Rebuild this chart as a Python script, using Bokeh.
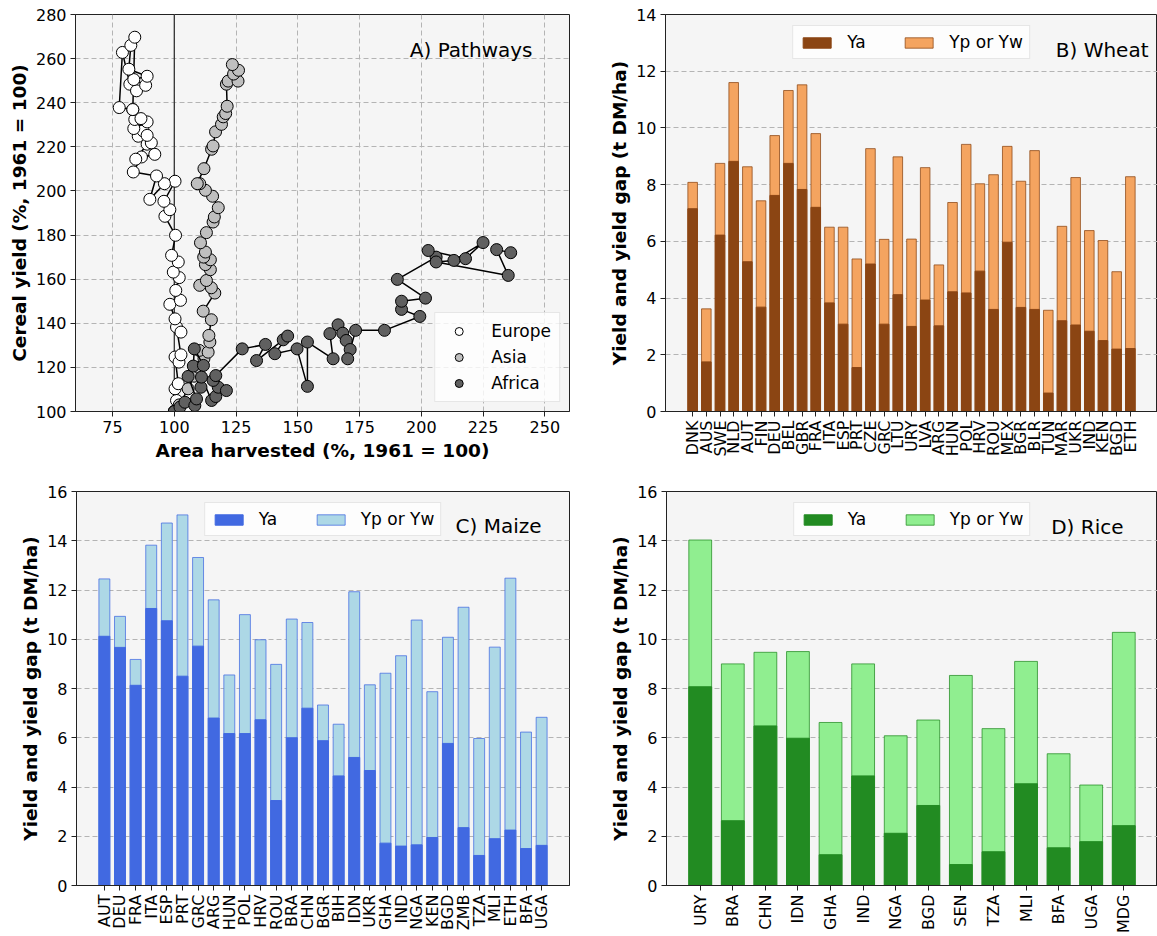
import numpy as np
from bokeh.plotting import figure
from bokeh.models import (Range1d, FixedTicker, Legend, LegendItem, Label, Span,
                          ColumnDataSource)
from bokeh.layouts import row, column
from bokeh.embed import file_html
from bokeh.resources import INLINE

FONT = "DejaVu Sans"

# ---------------- Panel A data: area harvested vs cereal yield (1961 = 100) ----------------
europe_area = [100, 100.9, 100.3, 101.6, 100.3, 101.9, 102.7, 100.9, 102.7, 100.3, 98.2, 102.5,
               100.6, 102.0, 99.6, 101.6, 98.9, 100.5, 96.2, 98.2, 95.8, 100.3, 96.0, 90.1,
               92.8, 83.4, 86.7, 92.1, 84.4, 89.0, 90.7, 85.4, 87.4, 89.0, 83.6, 89.0, 84.0,
               86.5, 83.2, 77.7, 79.0, 82.0, 84.7, 88.4, 83.6, 89.0, 81.6, 82.4, 84.0, 83.2]
europe_yield = [100, 105.0, 110.3, 112.6, 124.7, 122.4, 125.7, 138.3, 136.0, 142.0, 148.6, 150.4,
                154.9, 160.7, 163.2, 167.8, 170.8, 179.9, 188.5, 191.5, 195.3, 204.4, 203.3, 196.2,
                206.8, 208.6, 215.4, 216.6, 214.4, 221.2, 221.8, 224.8, 227.2, 225.2, 228.3, 231.3,
                232.4, 232.8, 236.9, 237.8, 262.8, 248.4, 245.4, 247.9, 250.5, 252.0, 255.2, 266.0,
                269.7, 236.9]

asia_area = [100, 102.0, 105.6, 108.0, 110.0, 112.0, 110.1, 113.7, 114.4, 114.0, 115.0, 111.7,
             116.4, 115.0, 110.3, 113.0, 114.6, 112.6, 114.6, 111.9, 112.6, 110.6, 113.0, 115.7,
             116.2, 117.8, 115.5, 112.6, 110.3, 109.3, 112.0, 115.1, 115.7, 116.7, 119.1, 119.8,
             120.8, 121.4, 121.1, 121.8, 125.8, 124.0, 126.0, 123.5]
asia_yield = [100, 103.0, 110.3, 116.0, 120.0, 124.0, 127.7, 126.9, 131.5, 134.5, 141.6, 145.5,
              153.7, 156.1, 157.2, 159.4, 164.3, 166.6, 168.8, 170.0, 172.3, 176.5, 181.1, 185.9,
              188.2, 192.4, 197.6, 200.3, 203.3, 203.3, 210.1, 218.9, 220.4, 226.8, 230.2, 233.6,
              235.1, 238.4, 248.4, 249.8, 249.8, 253.0, 254.7, 257.3]

africa_area = [100, 102.3, 104.3, 108.3, 109.0, 105.6, 107.7, 108.1, 111.8, 110.8, 111.0, 115.1,
               116.8, 117.8, 121.1, 115.7, 116.8, 127.5, 136.9, 133.3, 144.1, 145.9, 140.7, 149.7,
               153.9, 153.9, 164.3, 163.0, 166.3, 168.2, 169.6, 171.2, 170.2, 173.4, 185.1, 199.4,
               192.0, 192.0, 201.7, 190.3, 206.0, 202.8, 217.9, 225.0, 213.2, 206.0, 235.2, 230.5,
               236.2]
africa_yield = [100, 102.0, 104.2, 102.7, 105.7, 115.9, 120.6, 128.4, 120.9, 111.0, 115.6, 105.0,
                106.8, 111.0, 109.5, 114.1, 116.3, 128.4, 130.4, 123.1, 132.5, 134.2, 126.2, 128.4,
                111.4, 131.5, 123.9, 135.3, 139.3, 135.5, 132.2, 128.1, 123.9, 136.8, 136.8, 143.1,
                146.3, 150.0, 151.4, 159.9, 170.0, 173.0, 169.3, 176.6, 168.5, 167.8, 161.7, 173.4,
                172.0]

x_ticks_a = [75, 100, 125, 150, 175, 200, 225, 250]
y_ticks_a = [100, 120, 140, 160, 180, 200, 220, 240, 260, 280]

# ---------------- Panel B: wheat ----------------
wheat_countries = ["DNK", "AUS", "SWE", "NLD", "AUT", "FIN", "DEU", "BEL", "GBR", "FRA", "ITA",
                   "ESP", "PRT", "CZE", "GRC", "LTU", "URY", "LVA", "ARG", "HUN", "POL", "HRV",
                   "ROU", "MEX", "BGR", "BLR", "TUN", "MAR", "UKR", "IND", "KEN", "BGD", "ETH"]
wheat_ya = [7.15, 1.75, 6.22, 8.82, 5.28, 3.68, 7.62, 8.75, 7.83, 7.20, 3.83,
            3.08, 1.55, 5.20, 3.08, 4.12, 3.00, 3.93, 3.02, 4.22, 4.18, 4.95,
            3.60, 5.97, 3.67, 3.60, 0.65, 3.20, 3.05, 2.83, 2.50, 2.20, 2.22]
wheat_yp = [8.08, 3.62, 8.75, 11.60, 8.63, 7.43, 9.73, 11.32, 11.52, 9.80, 6.50,
            6.50, 5.38, 9.27, 6.07, 8.98, 6.08, 8.60, 5.17, 7.37, 9.42, 8.03,
            8.35, 9.35, 8.12, 9.20, 3.57, 6.53, 8.25, 6.38, 6.03, 4.93, 8.28]

# ---------------- Panel C: maize ----------------
maize_countries = ["AUT", "DEU", "FRA", "ITA", "ESP", "PRT", "GRC", "ARG", "HUN", "POL", "HRV",
                   "ROU", "BRA", "CHN", "BGR", "BIH", "IDN", "UKR", "GHA", "IND", "NGA", "KEN",
                   "BGD", "ZMB", "TZA", "MLI", "ETH", "BFA", "UGA"]
maize_ya = [10.12, 9.67, 8.13, 11.25, 10.75, 8.50, 9.72, 6.80, 6.17, 6.17, 6.73,
            3.45, 6.00, 7.20, 5.88, 4.45, 5.20, 4.67, 1.72, 1.60, 1.65, 1.95,
            5.77, 2.35, 1.22, 1.90, 2.25, 1.50, 1.63]
maize_yp = [12.45, 10.93, 9.18, 13.82, 14.72, 15.05, 13.32, 11.60, 8.55, 11.00, 9.98,
            8.98, 10.82, 10.68, 7.33, 6.55, 11.93, 8.15, 8.62, 9.33, 10.78, 7.87,
            10.08, 11.30, 5.97, 9.68, 12.48, 6.23, 6.83]

# ---------------- Panel D: rice ----------------
rice_countries = ["URY", "BRA", "CHN", "IDN", "GHA", "IND", "NGA", "BGD", "SEN", "TZA", "MLI",
                  "BFA", "UGA", "MDG"]
rice_ya = [8.07, 2.63, 6.48, 5.98, 1.25, 4.45, 2.12, 3.25, 0.85, 1.37, 4.13, 1.53, 1.78, 2.43]
rice_yp = [14.03, 9.00, 9.47, 9.50, 6.62, 9.00, 6.08, 6.72, 8.53, 6.37, 9.10, 5.35, 4.08, 10.28]

legend_labels = ["Ya", "Yp or Yw"]
ylabel_bars = "Yield and yield gap (t DM/ha)"


def style(p):
    p.background_fill_color = "#f5f5f5"
    p.border_fill_color = "white"
    p.outline_line_color = "#222222"
    p.outline_line_width = 1
    for ax in (p.xaxis[0], p.yaxis[0]):
        ax.major_label_text_font = FONT
        ax.major_label_text_font_size = "16px"
        ax.major_label_text_color = "black"
        ax.axis_label_text_font = FONT
        ax.axis_label_text_font_size = "18.5px"
        ax.axis_label_text_font_style = "bold"
        ax.axis_label_text_color = "black"
        ax.axis_line_color = "#222222"
        ax.major_tick_line_color = "#222222"
        ax.major_tick_out = 5
        ax.major_tick_in = 0
        ax.minor_tick_line_color = None
        ax.major_label_standoff = 4
    p.yaxis[0].axis_label_standoff = 3
    p.xaxis[0].axis_label_standoff = 4
    for g in (p.xgrid[0], p.ygrid[0]):
        g.grid_line_color = "#b4b4b4"
        g.grid_line_dash = "5 3"
        g.grid_line_width = 1


def title_label(p, text, x, y):
    p.add_layout(Label(x=x, y=y, x_units="screen", y_units="screen", text=text,
                       text_align="right", text_baseline="middle", text_font=FONT,
                       text_font_size="20px", text_color="black"))


# ---------------- Panel A ----------------
pA = figure(width=590, height=470, x_range=Range1d(60, 260), y_range=Range1d(100, 280),
            output_backend="svg", toolbar_location=None,
            min_border_left=75, min_border_right=21, min_border_top=14, min_border_bottom=59)
style(pA)
pA.xaxis.ticker = FixedTicker(ticks=x_ticks_a)
pA.yaxis.ticker = FixedTicker(ticks=y_ticks_a)
pA.xaxis.axis_label = "Area harvested (%, 1961 = 100)"
pA.yaxis.axis_label = "Cereal yield (%, 1961 = 100)"
pA.add_layout(Span(location=100, dimension="height", line_color="#333333", line_width=1.3,
                   level="underlay"))

series = [("Europe", europe_area, europe_yield, "white"),
          ("Asia", asia_area, asia_yield, "#bfbfbf"),
          ("Africa", africa_area, africa_yield, "#606060")]
items_a = []
for name, xs, ys, col in series:
    src = ColumnDataSource(dict(x=xs, y=ys))
    pA.line("x", "y", source=src, line_color="black", line_width=1.5)
    r = pA.scatter("x", "y", source=src, size=12, fill_color=col, line_color="black",
                   line_width=1)
    items_a.append(LegendItem(label=name, renderers=[r]))
legA = Legend(items=items_a, location="bottom_right", orientation="vertical",
              margin=9, padding=8, glyph_width=31, glyph_height=20, label_standoff=17,
              spacing=6, label_text_font=FONT, label_text_font_size="17px",
              label_text_color="black", border_line_color="#d0d0d0",
              background_fill_color="white", background_fill_alpha=0.8)
pA.add_layout(legA)
title_label(pA, "A) Pathways", 457, 362)


# ---------------- Bar panels ----------------
def bar_panel(cats, ya, yp, dark, light, ymax, title, tx, ty, width, height,
              bl, br, bt, bb):
    n = len(cats)
    xs = list(range(n))
    pad = 0.05 * (n - 1 + 0.7) + 0.35
    p = figure(width=width, height=height, x_range=Range1d(-pad, n - 1 + pad),
               y_range=Range1d(0, ymax), output_backend="svg", toolbar_location=None,
               min_border_left=bl, min_border_right=br, min_border_top=bt,
               min_border_bottom=bb)
    style(p)
    p.xgrid.visible = False
    src = ColumnDataSource(dict(x=xs, ya=ya, yp=yp))
    r_yp = p.vbar(x="x", top="yp", bottom=0, width=0.7, source=src, fill_color=light,
                  line_color=dark, line_alpha=0.75, line_width=1)
    r_ya = p.vbar(x="x", top="ya", bottom=0, width=0.7, source=src, fill_color=dark,
                  line_color=dark, line_width=1)
    p.xaxis.ticker = FixedTicker(ticks=xs)
    p.xaxis.major_label_overrides = {i: c for i, c in enumerate(cats)}
    p.xaxis.major_label_orientation = np.pi / 2
    p.yaxis.ticker = FixedTicker(ticks=list(range(0, ymax + 1, 2)))
    p.yaxis.axis_label = ylabel_bars
    leg = Legend(items=[LegendItem(label=legend_labels[0], renderers=[r_ya]),
                        LegendItem(label=legend_labels[1], renderers=[r_yp])],
                 location="top_center", orientation="horizontal", margin=11, padding=6,
                 glyph_width=35, glyph_height=13, label_standoff=13, spacing=34,
                 label_text_font=FONT, label_text_font_size="17px",
                 label_text_color="black", border_line_color="#d0d0d0",
                 background_fill_color="white", background_fill_alpha=0.8)
    p.add_layout(leg)
    title_label(p, title, tx, ty)
    return p


pB = bar_panel(wheat_countries, wheat_ya, wheat_yp, "#8B4513", "#F4A460", 14, "B) Wheat",
               483, 362, 567, 470, 75, 0, 14, 59)
pC = bar_panel(maize_countries, maize_ya, maize_yp, "#4169E1", "#ADD8E6", 16, "C) Maize",
               465, 360, 590, 466, 76, 21, 21, 49)
pD = bar_panel(rice_countries, rice_ya, rice_yp, "#228B22", "#90EE90", 16, "D) Rice",
               457, 359, 567, 466, 76, 0, 21, 49)

layout = column(row(pA, pB), row(pC, pD))
open("out.html", "w").write(file_html(layout, INLINE))
